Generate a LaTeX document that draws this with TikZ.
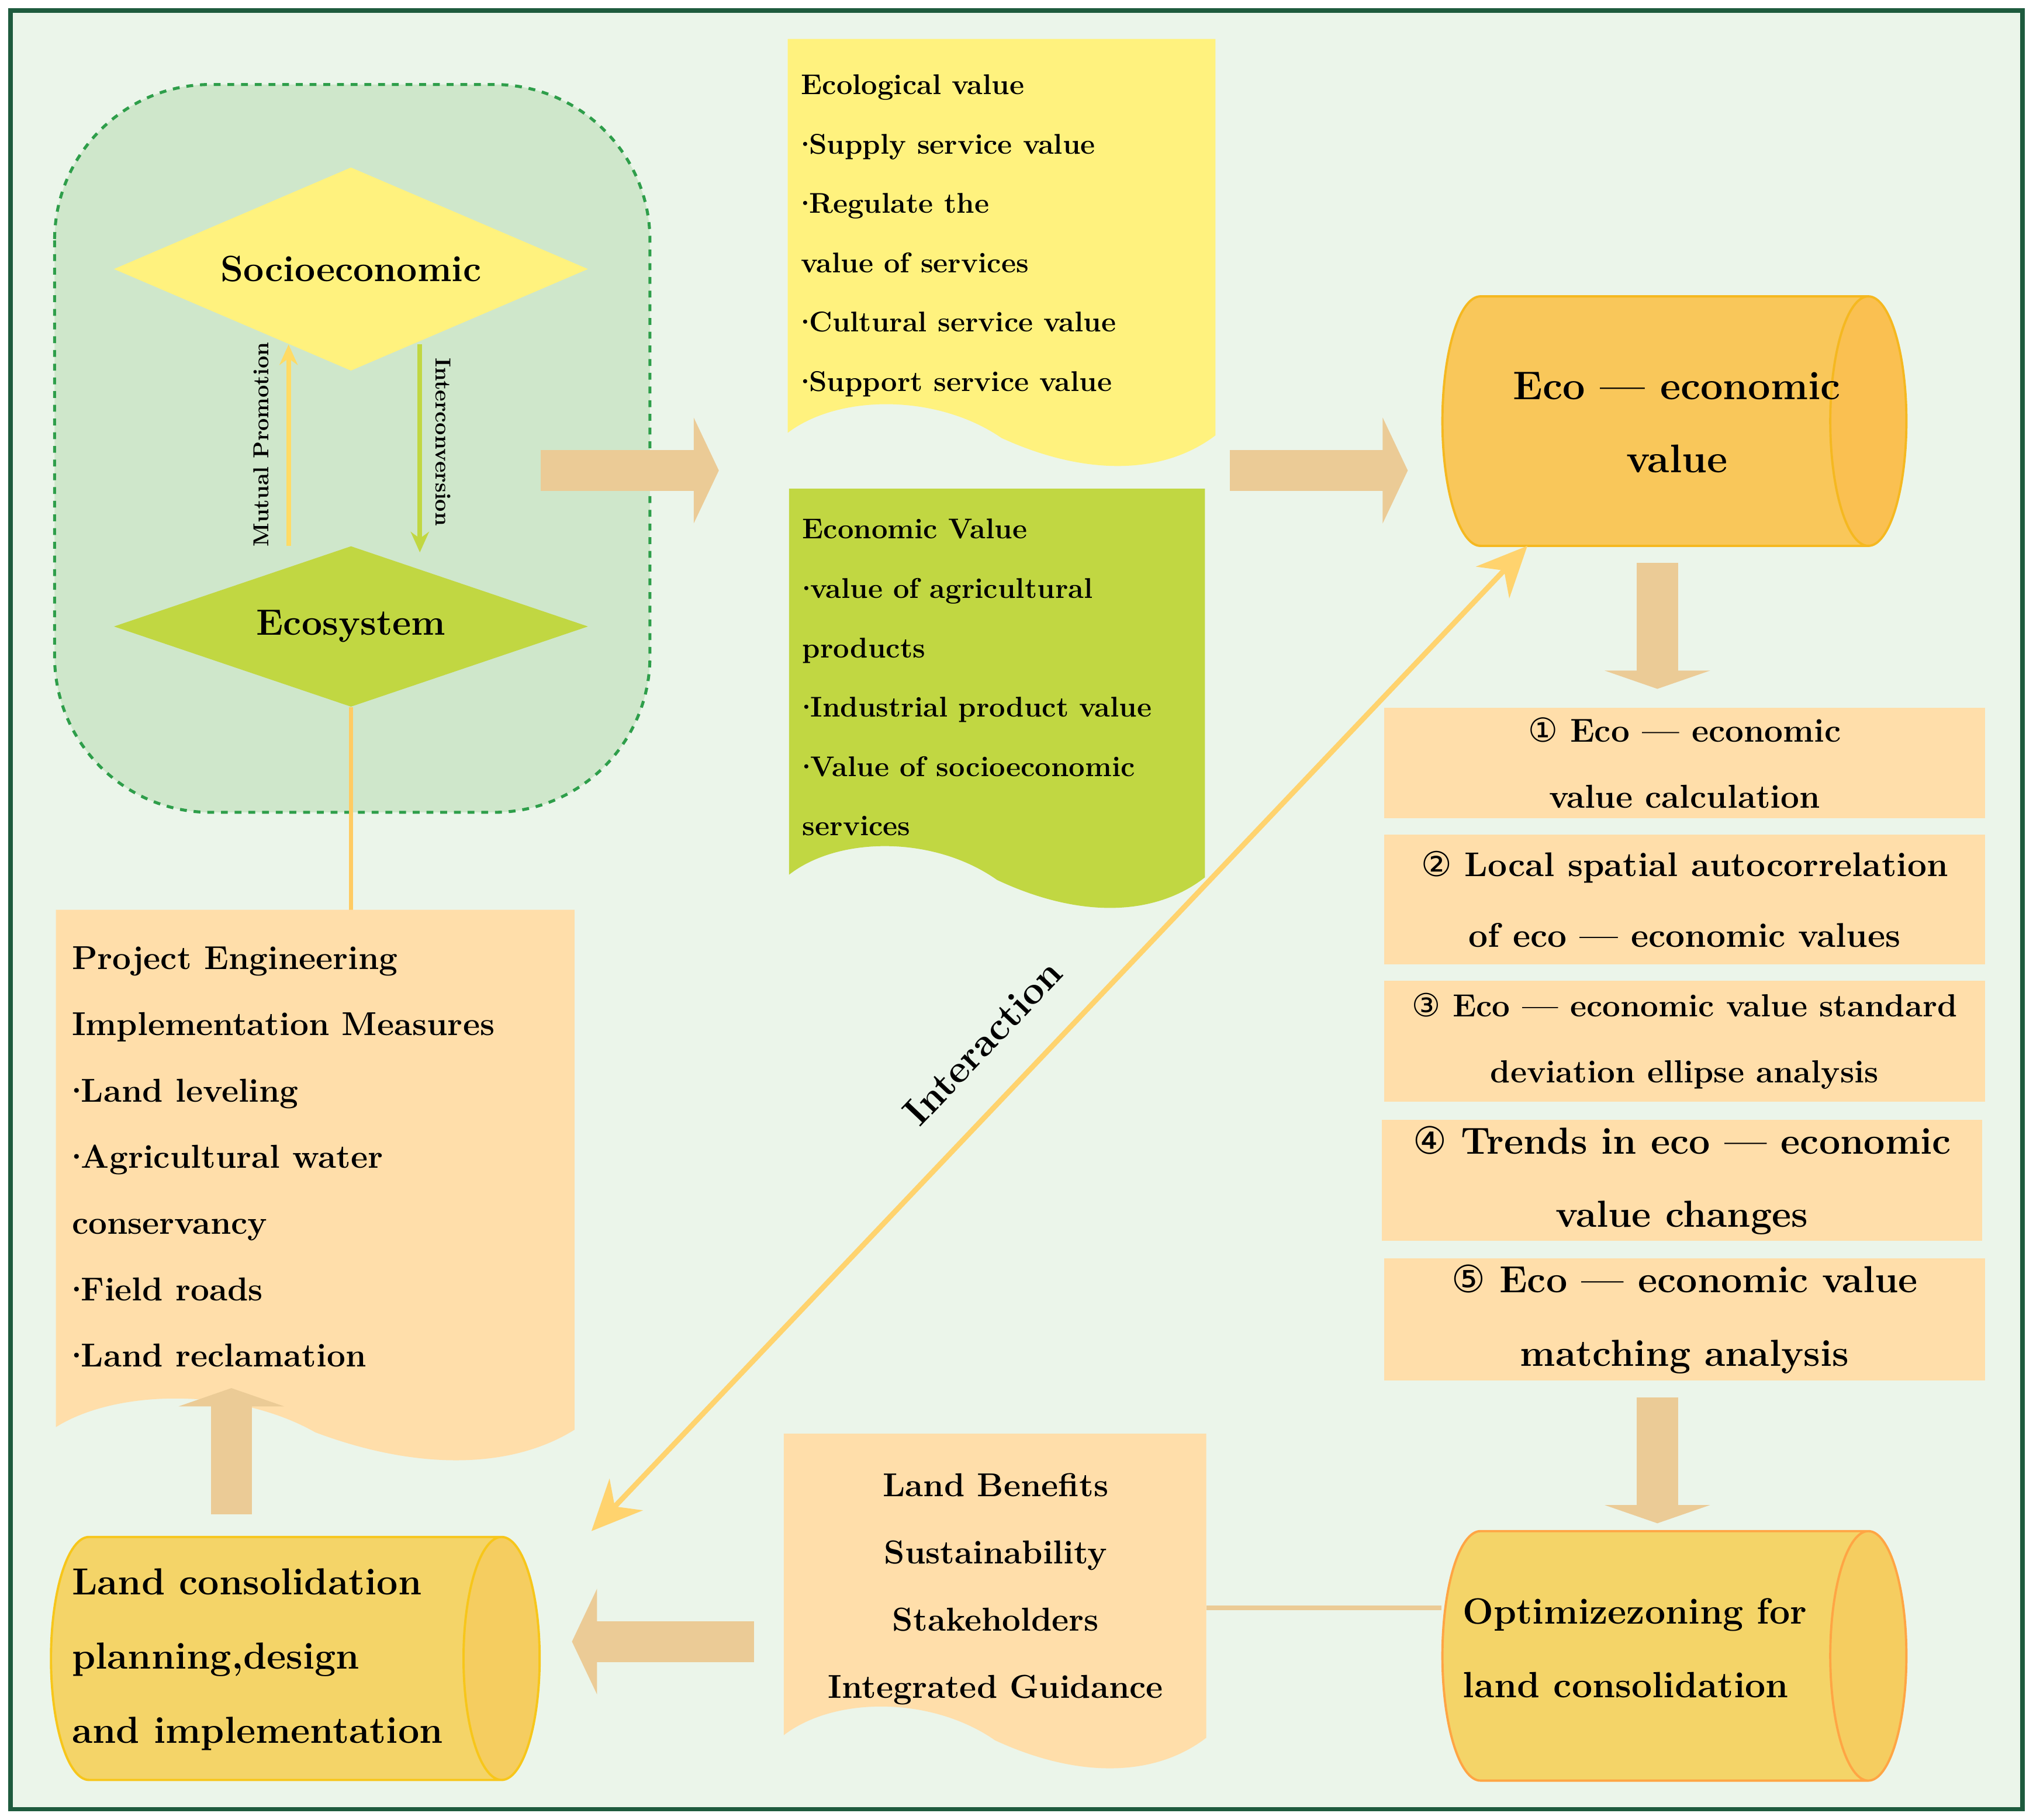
\documentclass[tikz,border=0pt]{standalone}
\usepackage{fontspec}
\newfontfamily\djv{DejaVu Sans}
\usetikzlibrary{shapes.geometric,arrows.meta}
\definecolor{bgc}{HTML}{EBF5EA}
\definecolor{bord}{HTML}{1E5B3E}
\definecolor{dashf}{HTML}{CFE7CB}
\definecolor{dashd}{HTML}{2E9E4A}
\definecolor{yel}{HTML}{FFF27E}
\definecolor{grn}{HTML}{C1D742}
\definecolor{pch}{HTML}{FFDEAA}
\definecolor{tan}{HTML}{EBCB96}
\definecolor{cyla}{HTML}{F9C75A}
\definecolor{cylb}{HTML}{F4D468}
\definecolor{orn}{HTML}{F5B820}
\definecolor{intc}{HTML}{FFD36E}
\newcommand\cn[1]{{\djv\mdseries #1}}
\newcommand\bl{\makebox[0.28em][c]{·}}
\newcommand\dsh{ — }
\newcommand\docpath[4]{(#1,#2) -- (#3,#2) -- (#3,{#4-30}) .. controls ({#3-0.12*(#3-#1)},#4) and ({#3-0.3*(#3-#1)},{#4+2}) .. ({#1+0.5*(#3-#1)},{#4-28}) .. controls ({#1+0.35*(#3-#1)},{#4-62}) and ({#1+0.12*(#3-#1)},{#4-62}) .. (#1,{#4-32}) -- cycle}
\tikzset{
  bigarr/.style={tan,line width=18pt,-{Triangle[length=11pt,width=46pt]}},
  txt/.style={inner sep=0pt,font=\bfseries},
  box/.style={fill=pch,draw=none,minimum width=9.24cm,inner sep=0pt,align=center,font=\bfseries},
  cyl/.style={shape=cylinder,shape aspect=5,cylinder uses custom fill,draw,line width=1pt},
  dia/.style={diamond,aspect=1.47,minimum width=7.3cm,inner sep=0pt,font=\bfseries\fontsize{16}{18}\selectfont},
}
\begin{document}
\begin{tikzpicture}[x=0.02cm,y=-0.02cm]
\useasboundingbox (0,0) rectangle (1564,1400);
\draw[bord,line width=2pt,fill=bgc] (8,8) rectangle (1556,1392);
\draw[dashd,dashed,line width=1.3pt,fill=dashf,rounded corners=2.4cm] (42,65) rectangle (500,625);
% diamonds
\node[dia,fill=yel] (soc) at (270,207) {Socioeconomic};
\node[dia,fill=grn] (eco) at (270,482) {Ecosystem};
\coordinate (u1) at (222,420); \coordinate (u2) at (222,265);
\coordinate (d1) at (323,265); \coordinate (d2) at (323,425);
\draw[yel!80!orange,line width=2pt,-{Stealth[length=9pt,width=8pt]}] (u1) -- (u2);
\node[txt,rotate=90,font=\bfseries\fontsize{9.5}{11}\selectfont] (mp) at (201,342) {Mutual Promotion};
\draw[grn,line width=2pt,-{Stealth[length=9pt,width=8pt]}] (d1) -- (d2);
\node[txt,rotate=-90,font=\bfseries\fontsize{9.5}{11}\selectfont] (ic) at (341,340) {Interconversion};
\coordinate (pj) at (270,700);
\draw[intc!90!orange,line width=2pt] (eco.south) -- (pj);
% documents
\fill[yel] \docpath{606}{30}{935}{365};
\node[txt,anchor=north west,align=left,font=\bfseries\fontsize{12.5}{26}\selectfont] (ecol) at (616,57) {Ecological value\\ \bl Supply service value\\ \bl Regulate the\\ value of services\\ \bl Cultural service value\\ \bl Support service value};
\fill[grn] \docpath{607}{376}{927}{705};
\node[txt,anchor=north west,align=left,font=\bfseries\fontsize{12.5}{26}\selectfont] (econ) at (617,399) {Economic Value\\ \bl value of agricultural\\ products\\ \bl Industrial product value\\ \bl Value of socioeconomic\\ services};
\fill[pch] \docpath{43}{700}{442}{1130};
\node[txt,anchor=north west,align=left,font=\bfseries\fontsize{14.5}{29}\selectfont] (proj) at (55,728) {Project Engineering\\ Implementation Measures\\ \bl Land leveling\\ \bl Agricultural water\\ conservancy\\ \bl Field roads\\ \bl Land reclamation};
\fill[pch] \docpath{603}{1103}{928}{1367};
\node[txt,anchor=north,align=center,font=\bfseries\fontsize{14.5}{29.5}\selectfont] (lb) at (766,1133) {Land Benefits\\ Sustainability\\ Stakeholders\\ Integrated Guidance};
% cylinders
\node[cyl,draw=orn,cylinder body fill=cyla,cylinder end fill=cyla!90!orange,minimum height=7.14cm,minimum width=3.84cm] (ecv) at (1268,324) {};
\node[txt,align=center,font=\bfseries\fontsize{17.5}{32}\selectfont] (ecvt) at (1290,325) {Eco\dsh economic\\ value};
\node[cyl,draw=orange!60!pch,cylinder body fill=cylb,cylinder end fill=cylb!92!orange,minimum height=7.14cm,minimum width=3.84cm] (opt) at (1268,1274) {};
\node[txt,anchor=west,align=left,font=\bfseries\fontsize{16}{32.5}\selectfont] (optt) at (1125,1268) {Optimizezoning for\\ land consolidation};
\node[cyl,draw=orn!80!yellow,cylinder body fill=cylb,cylinder end fill=cylb!92!orange,minimum height=7.52cm,minimum width=3.74cm] (lc) at (207,1276) {};
\node[txt,anchor=west,align=left,font=\bfseries\fontsize{16.5}{32.5}\selectfont] (lct) at (55,1277) {Land consolidation\\ planning,design\\ and implementation};
% boxes
\node[box,minimum height=1.7cm,font=\bfseries\fontsize{14.5}{29}\selectfont] (b1) at (1296,587) {\cn{①} Eco\dsh economic\\ value calculation};
\node[box,minimum height=2.0cm,font=\bfseries\fontsize{15}{31}\selectfont] (b2) at (1296,692) {\cn{②} Local spatial autocorrelation\\ of eco\dsh economic values};
\node[box,minimum height=1.86cm,font=\bfseries\fontsize{14}{29}\selectfont] (b3) at (1296,801) {\cn{③} Eco\dsh economic value standard\\ deviation ellipse analysis};
\node[box,minimum height=1.86cm,font=\bfseries\fontsize{16.5}{32}\selectfont] (b4) at (1294,908) {\cn{④} Trends in eco\dsh economic\\ value changes};
\node[box,minimum height=1.88cm,font=\bfseries\fontsize{16.5}{32}\selectfont] (b5) at (1296,1015) {\cn{⑤} Eco\dsh economic value\\ matching analysis};
% arrows
\coordinate (a1s) at (416,362); \coordinate (a1e) at (553,362);
\coordinate (a2s) at (946,362); \coordinate (a2e) at (1083,362);
\coordinate (a3s) at (1275,433); \coordinate (a3e) at (1275,530);
\coordinate (a4s) at (1275,1075); \coordinate (a4e) at (1275,1172);
\coordinate (a5s) at (580,1263); \coordinate (a5e) at (440,1263);
\coordinate (a6s) at (178,1165); \coordinate (a6e) at (178,1068);
\draw[bigarr] (a1s) -- (a1e);
\draw[bigarr] (a2s) -- (a2e);
\draw[bigarr,-{Triangle[length=8pt,width=46pt]}] (a3s) -- (a3e);
\draw[bigarr,-{Triangle[length=8pt,width=46pt]}] (a4s) -- (a4e);
\draw[bigarr] (a5s) -- (a5e);
\draw[bigarr,-{Triangle[length=8pt,width=46pt]}] (a6s) -- (a6e);
\coordinate (lbr) at (928,1237);
\draw[tan,line width=2pt] (lbr) -- (opt.west |- lbr);
% interaction
\coordinate (i1) at (1175,420); \coordinate (i2) at (455,1178);
\draw[intc,line width=2.3pt,{Stealth[length=22pt,width=20pt]}-{Stealth[length=22pt,width=20pt]}] (i1) -- (i2);
\node[txt,rotate=46.5,font=\bfseries\fontsize{17}{20}\selectfont] (int) at (756,802) {Interaction};
\end{tikzpicture}
\end{document}
